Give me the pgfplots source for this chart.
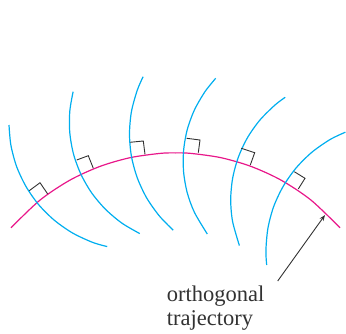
\documentclass[border=0pt]{standalone}
\usepackage{pgfplots}
\pgfplotsset{compat=1.18}
\usepackage{fontspec}
\setmainfont{Liberation Serif}
\usetikzlibrary{arrows.meta}
\definecolor{cy}{RGB}{0,174,239}
\definecolor{mg}{RGB}{232,23,138}
\definecolor{dk}{RGB}{50,50,50}
\begin{document}
\begin{tikzpicture}
\begin{axis}[width=346pt,height=333pt,scale only axis,
  xmin=0,xmax=346,ymin=0,ymax=333,hide axis,clip=false]
% orthogonal trajectory
\addplot[mg,line width=1.2pt,smooth] coordinates {(11,105.2)(40,132.9)(70,152.9)(100,166.6)(130,175.3)(160,179.6)(175.5,180.1)(191,179.6)(221,175.3)(251,166.6)(281,152.9)(311,132.9)(340,105.2)};
% family of curves
\addplot[cy,line width=1.2pt,smooth] coordinates {(9.0,208.0)(10.9,187.8)(16.6,166.5)(26.0,146.5)(38.6,128.4)(54.3,112.8)(72.4,100.1)(92.4,90.7)(107.2,86.4)};
\addplot[cy,line width=1.2pt,smooth] coordinates {(73.1,241.3)(69.8,221.8)(69.8,200.2)(73.5,179.0)(80.9,158.8)(91.6,140.2)(105.5,123.7)(122.0,109.8)(139.8,99.4)};
\addplot[cy,line width=1.2pt,smooth] coordinates {(143.1,256.3)(137.2,242.6)(131.4,221.2)(129.5,199.0)(131.4,176.9)(137.2,155.4)(146.6,135.2)(159.4,117.0)(173.2,102.8)};
\addplot[cy,line width=1.2pt,smooth] coordinates {(215.7,254.7)(205.1,241.5)(194.5,223.2)(187.2,203.2)(183.6,182.4)(183.6,161.2)(187.2,140.4)(194.5,120.5)(207.3,99.0)};
\addplot[cy,line width=1.2pt,smooth] coordinates {(285.2,235.7)(275.0,228.0)(259.7,212.7)(247.3,195.0)(238.2,175.4)(232.6,154.5)(230.7,133.0)(232.6,111.5)(239.4,87.4)};
\addplot[cy,line width=1.2pt,smooth] coordinates {(345.4,200.8)(330.1,193.5)(311.8,180.7)(295.9,164.8)(283.1,146.5)(273.6,126.2)(267.9,104.6)(265.9,82.3)(266.7,68.0)};
% right-angle marks
\addplot[dk,line width=0.9pt] coordinates {(29.3,142.3)(40,150.3)(47.7,139)};
\addplot[dk,line width=0.9pt] coordinates {(76.7,173)(88.3,177.3)(93.3,164.7)};
\addplot[dk,line width=0.9pt] coordinates {(130,190.7)(143.3,192)(145,178.7)};
\addplot[dk,line width=0.9pt] coordinates {(186.7,194.7)(200,193)(198.3,180.3)};
\addplot[dk,line width=0.9pt] coordinates {(241.3,184.7)(254.7,180.3)(250.3,168)};
\addplot[dk,line width=0.9pt] coordinates {(294.3,161.3)(305,154.7)(298.3,144)};
% arrow
\addplot[dk,line width=0.9pt,-{Stealth[length=6pt,width=4.5pt]}] coordinates {(277.7,52)(325,118)};
\node[anchor=base west,inner sep=0pt,font=\fontsize{22.5}{24}\selectfont,text=dk] at (axis cs:166.7,31.3) {orthogonal};
\node[anchor=base west,inner sep=0pt,font=\fontsize{22.5}{24}\selectfont,text=dk] at (axis cs:166.7,8) {trajectory};
\end{axis}
\pgfresetboundingbox
\path (current axis.south west) rectangle (current axis.north east);
\end{tikzpicture}
\end{document}
